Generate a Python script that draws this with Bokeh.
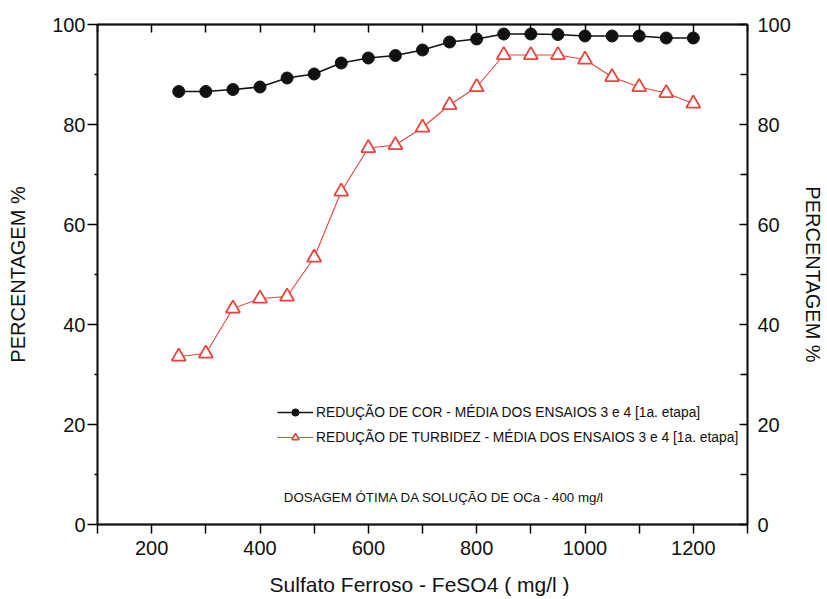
from bokeh.plotting import figure
from bokeh.models import (LinearAxis, FixedTicker, Range1d, Legend, LegendItem, Label)
from bokeh.embed import file_html
from bokeh.resources import INLINE

dosagem = [250, 300, 350, 400, 450, 500, 550, 600, 650, 700, 750, 800,
           850, 900, 950, 1000, 1050, 1100, 1150, 1200]
reducao_cor = [86.6, 86.6, 87.0, 87.5, 89.3, 90.1, 92.3, 93.3, 93.8, 94.9, 96.5, 97.1,
               98.1, 98.1, 98.0, 97.7, 97.7, 97.7, 97.3, 97.3]
reducao_turbidez = [33.6, 34.2, 43.2, 45.2, 45.6, 53.4, 66.6, 75.3, 75.9, 79.4, 83.9, 87.5,
                    93.9, 93.9, 93.9, 93.0, 89.5, 87.5, 86.3, 84.2]
x_ticks = [200, 400, 600, 800, 1000, 1200]
x_minor = [100, 300, 500, 700, 900, 1100, 1300]
y_ticks = [0, 20, 40, 60, 80, 100]
y_minor = [10, 30, 50, 70, 90]

FONT = "Liberation Sans"
RED = "#e8433d"

p = figure(width=826, height=598, output_backend="svg", toolbar_location=None,
           x_range=Range1d(100, 1300), y_range=Range1d(0, 100),
           x_axis_location=None, y_axis_location=None,
           min_border_left=97, min_border_top=24, min_border_right=79, min_border_bottom=74)
p.xgrid.visible = False
p.ygrid.visible = False
p.outline_line_color = "black"
p.outline_line_width = 1.5
p.background_fill_color = "white"

def style(ax):
    ax.axis_line_width = 1.8
    ax.axis_line_color = "#111111"
    ax.major_tick_line_width = 1.5
    ax.minor_tick_line_width = 1.5
    ax.major_label_text_font = FONT
    ax.major_label_text_font_size = "20px"
    ax.major_label_text_color = "#111111"
    ax.axis_label_text_font = FONT
    ax.axis_label_text_font_style = "normal"
    ax.axis_label_text_color = "#111111"

bottom = LinearAxis(ticker=FixedTicker(ticks=x_ticks, minor_ticks=x_minor),
                    axis_label="Sulfato Ferroso - FeSO4  ( mg/l )")
style(bottom)
bottom.major_tick_out = 9
bottom.major_tick_in = 0
bottom.minor_tick_out = 9
bottom.minor_tick_in = 0
bottom.major_label_standoff = 7
bottom.axis_label_standoff = 15
bottom.axis_label_text_font_size = "21px"
p.add_layout(bottom, "below")

top = LinearAxis(ticker=FixedTicker(ticks=x_ticks, minor_ticks=x_minor))
style(top)
top.major_tick_out = 0
top.major_tick_in = 8
top.minor_tick_out = 0
top.minor_tick_in = 8
top.major_label_text_color = None
top.major_label_text_font_size = "0px"
p.add_layout(top, "above")

left = LinearAxis(ticker=FixedTicker(ticks=y_ticks, minor_ticks=y_minor),
                  axis_label="PERCENTAGEM %")
style(left)
left.major_tick_out = 10
left.major_tick_in = 0
left.minor_tick_out = 3
left.minor_tick_in = 0
left.major_label_standoff = 2
left.axis_label_standoff = 20
left.axis_label_text_font_size = "20px"
p.add_layout(left, "left")

right = LinearAxis(ticker=FixedTicker(ticks=y_ticks, minor_ticks=y_minor),
                   axis_label="PERCENTAGEM %")
style(right)
right.major_tick_out = 0
right.major_tick_in = 8
right.minor_tick_out = 0
right.minor_tick_in = 7
right.major_label_standoff = 10
right.axis_label_standoff = 8
right.axis_label_text_font_size = "20px"
p.add_layout(right, "right")

l1 = p.line(dosagem, reducao_cor, line_color="#111111", line_width=1.6)
m1 = p.scatter(dosagem, reducao_cor, marker="circle", size=12,
               fill_color="#111111", line_color="#111111")
l2 = p.line(dosagem, reducao_turbidez, line_color=RED, line_width=1.1)
m2 = p.scatter(dosagem, reducao_turbidez, marker="triangle", size=14,
               fill_color="white", line_color=RED, line_width=1.8)

legend = Legend(items=[
    LegendItem(label="REDUÇÃO DE COR - MÉDIA DOS ENSAIOS 3 e 4 [1a. etapa]", renderers=[l1, m1]),
    LegendItem(label="REDUÇÃO DE TURBIDEZ - MÉDIA DOS ENSAIOS 3 e 4 [1a. etapa]", renderers=[l2, m2]),
], location=(180, 78))
legend.border_line_color = None
legend.background_fill_alpha = 0
legend.label_text_font = FONT
legend.label_text_font_size = "13.8px"
legend.label_text_color = "#111111"
legend.glyph_width = 36
legend.glyph_height = 18
legend.label_height = 18
legend.label_standoff = 3
legend.spacing = 7
legend.padding = 2
legend.margin = 0
p.add_layout(legend)

note = Label(x=740, y=5.4, text="DOSAGEM ÓTIMA DA SOLUÇÃO DE OCa - 400 mg/l",
             text_font=FONT, text_font_size="13.3px", text_color="#111111",
             text_align="center", text_baseline="middle")
p.add_layout(note)

open("out.html", "w").write(file_html(p, INLINE))
